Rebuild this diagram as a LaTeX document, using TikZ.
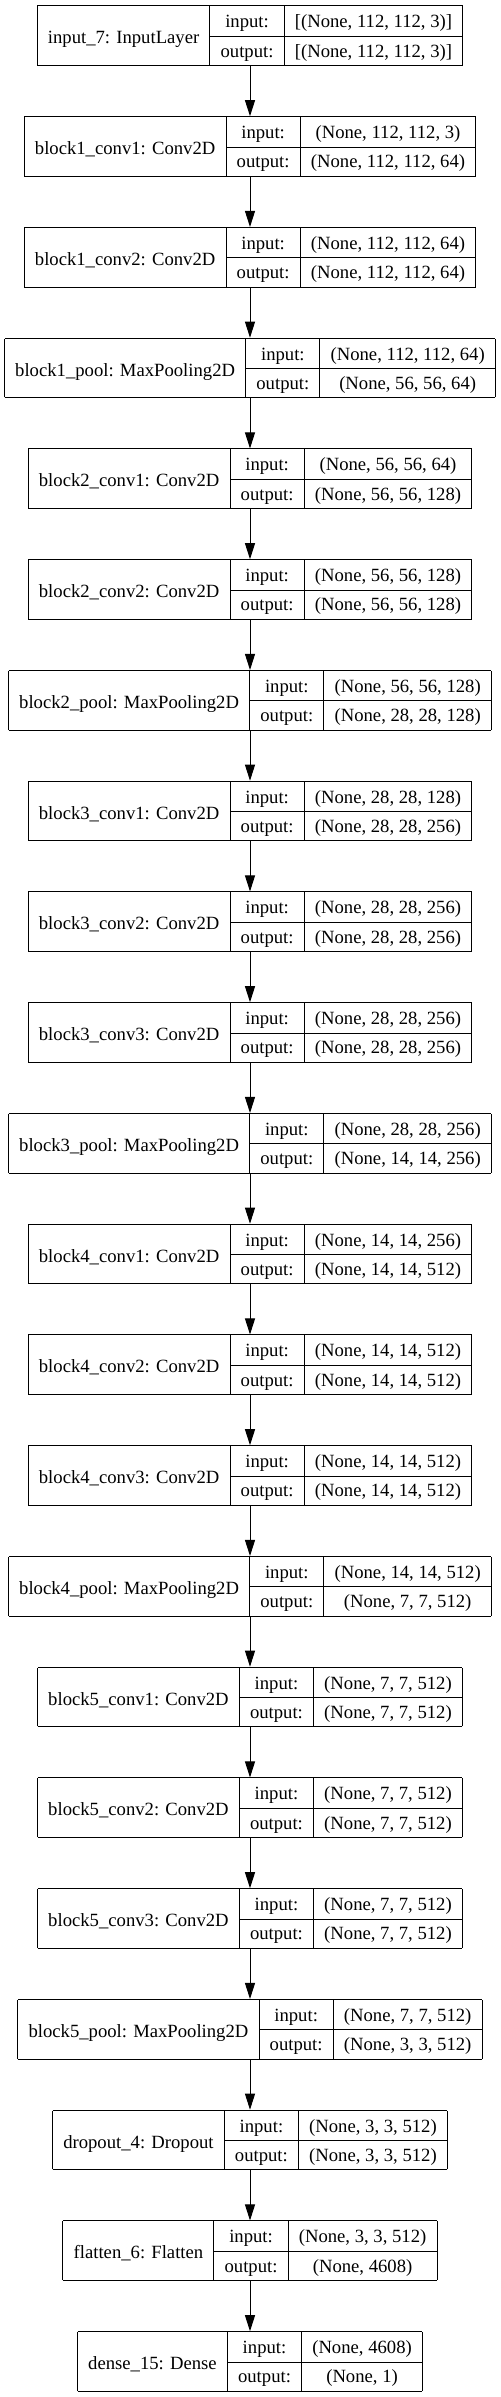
\documentclass[tikz,border=0pt]{standalone}
\usepackage{fontspec}
\setmainfont{Liberation Serif}
\usepackage{tikz}
\usetikzlibrary{arrows.meta,positioning}
\setlength\tabcolsep{8pt}
\setlength\arrayrulewidth{0.75pt}

\begin{document}
\begin{tikzpicture}[x=0.75pt, y=-0.75pt,
  layer/.style={inner sep=0pt, outer sep=0pt, font=\fontsize{14}{16}\selectfont},
  edge/.style={-{Triangle[length=12pt, width=7.5pt]}, line width=0.75pt}
]

\useasboundingbox (0,0) rectangle (500,2397);

% Layers and connections
\foreach \n/\a/\b [count=\i, remember=\i as \j (initially 0)] in {
  {input\_7: InputLayer}/{[(None, 112, 112, 3)]}/{[(None, 112, 112, 3)]},
  {block1\_conv1: Conv2D}/{(None, 112, 112, 3)}/{(None, 112, 112, 64)},
  {block1\_conv2: Conv2D}/{(None, 112, 112, 64)}/{(None, 112, 112, 64)},
  {block1\_pool: MaxPooling2D}/{(None, 112, 112, 64)}/{(None, 56, 56, 64)},
  {block2\_conv1: Conv2D}/{(None, 56, 56, 64)}/{(None, 56, 56, 128)},
  {block2\_conv2: Conv2D}/{(None, 56, 56, 128)}/{(None, 56, 56, 128)},
  {block2\_pool: MaxPooling2D}/{(None, 56, 56, 128)}/{(None, 28, 28, 128)},
  {block3\_conv1: Conv2D}/{(None, 28, 28, 128)}/{(None, 28, 28, 256)},
  {block3\_conv2: Conv2D}/{(None, 28, 28, 256)}/{(None, 28, 28, 256)},
  {block3\_conv3: Conv2D}/{(None, 28, 28, 256)}/{(None, 28, 28, 256)},
  {block3\_pool: MaxPooling2D}/{(None, 28, 28, 256)}/{(None, 14, 14, 256)},
  {block4\_conv1: Conv2D}/{(None, 14, 14, 256)}/{(None, 14, 14, 512)},
  {block4\_conv2: Conv2D}/{(None, 14, 14, 512)}/{(None, 14, 14, 512)},
  {block4\_conv3: Conv2D}/{(None, 14, 14, 512)}/{(None, 14, 14, 512)},
  {block4\_pool: MaxPooling2D}/{(None, 14, 14, 512)}/{(None, 7, 7, 512)},
  {block5\_conv1: Conv2D}/{(None, 7, 7, 512)}/{(None, 7, 7, 512)},
  {block5\_conv2: Conv2D}/{(None, 7, 7, 512)}/{(None, 7, 7, 512)},
  {block5\_conv3: Conv2D}/{(None, 7, 7, 512)}/{(None, 7, 7, 512)},
  {block5\_pool: MaxPooling2D}/{(None, 7, 7, 512)}/{(None, 3, 3, 512)},
  {dropout\_4: Dropout}/{(None, 3, 3, 512)}/{(None, 3, 3, 512)},
  {flatten\_6: Flatten}/{(None, 3, 3, 512)}/{(None, 4608)},
  {dense\_15: Dense}/{(None, 4608)}/{(None, 1)}} {
  \node[layer] (l\i) at (250, {35.8+110.75*(\i-1)}) {%
    \begin{tabular}{|c|c|c|}\hline
    \raisebox{-12pt}[0pt][0pt]{\n} & \rule[-6pt]{0pt}{22pt}input: & \a \\ \cline{2-3}
     & \rule[-6pt]{0pt}{22pt}output: & \b \\ \hline
    \end{tabular}};
  \ifnum\i>1
    \draw[edge] (l\j.south) -- (l\i.north);
  \fi
}

\end{tikzpicture}
\end{document}
